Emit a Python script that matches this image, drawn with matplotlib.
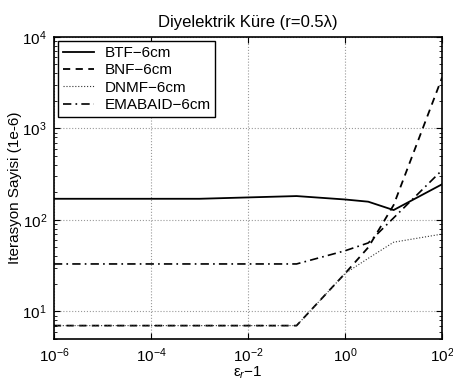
import matplotlib
matplotlib.use("Agg")
import matplotlib.pyplot as plt
from matplotlib.ticker import LogLocator, NullLocator

plt.rcParams["font.family"] = ["Liberation Sans", "DejaVu Sans"]
plt.rcParams["mathtext.fontset"] = "custom"
plt.rcParams["mathtext.rm"] = "Liberation Sans"
plt.rcParams["mathtext.it"] = "Liberation Sans:italic"
plt.rcParams["font.size"] = 11

# epsilon_r - 1 values
eps = [1e-6, 1e-3, 1e-1, 1, 3, 10, 100]

btf = [170, 170, 182, 167, 158, 128, 245]
bnf = [7, 7, 7, 26, 50, 145, 3600]
dnmf = [7, 7, 7, 26, 38, 57, 70]
emabaid = [33, 33, 33, 46, 56, 105, 350]

fig = plt.figure(figsize=(4.53, 3.85), dpi=100)
ax = fig.add_axes([0.119, 0.1195, 0.857, 0.785])

ax.plot(eps, btf, "-", color="black", lw=1.3, label="BTF\u22126cm")
ax.plot(eps, bnf, "--", color="black", lw=1.3, dashes=(4, 3), label="BNF\u22126cm")
ax.plot(eps, dnmf, ":", color="#333333", lw=0.8, label="DNMF\u22126cm")
ax.plot(eps, emabaid, "-.", color="black", lw=1.2, dashes=(5, 2.5, 1, 2.5), label="EMABAID\u22126cm")

ax.set_xscale("log")
ax.set_yscale("log")
ax.set_xlim(1e-6, 1e2)
ax.set_ylim(5, 1e4)
ax.set_xticks([1e-6, 1e-4, 1e-2, 1, 1e2])
ax.xaxis.set_minor_locator(NullLocator())
ax.yaxis.set_major_locator(LogLocator(base=10, numticks=10))
ax.yaxis.set_minor_locator(LogLocator(base=10, subs=range(2, 10), numticks=10))

ax.tick_params(which="both", direction="in", top=True, right=True)
ax.tick_params(which="major", length=4, labelsize=11, pad=5)
ax.tick_params(which="minor", length=2)
ax.grid(True, which="major", linestyle=":", color="#999999", lw=0.8)
for s in ax.spines.values():
    s.set_linewidth(1.2)

ax.set_title("Diyelektrik K\u00fcre (r=0.5\u03bb)", fontsize=12, pad=7)
ax.set_xlabel("\u03b5$_r$\u22121", labelpad=0)
ax.set_ylabel("Iterasyon Sayisi (1e-6)", labelpad=0)

leg = ax.legend(loc="upper left", fontsize=11, handlelength=2.0, labelspacing=0.22,
                handletextpad=0.7, borderaxespad=0.3, borderpad=0.3,
                fancybox=False, framealpha=1, edgecolor="black")
leg.get_frame().set_linewidth(1.0)

fig.savefig("out.png", dpi=100)
